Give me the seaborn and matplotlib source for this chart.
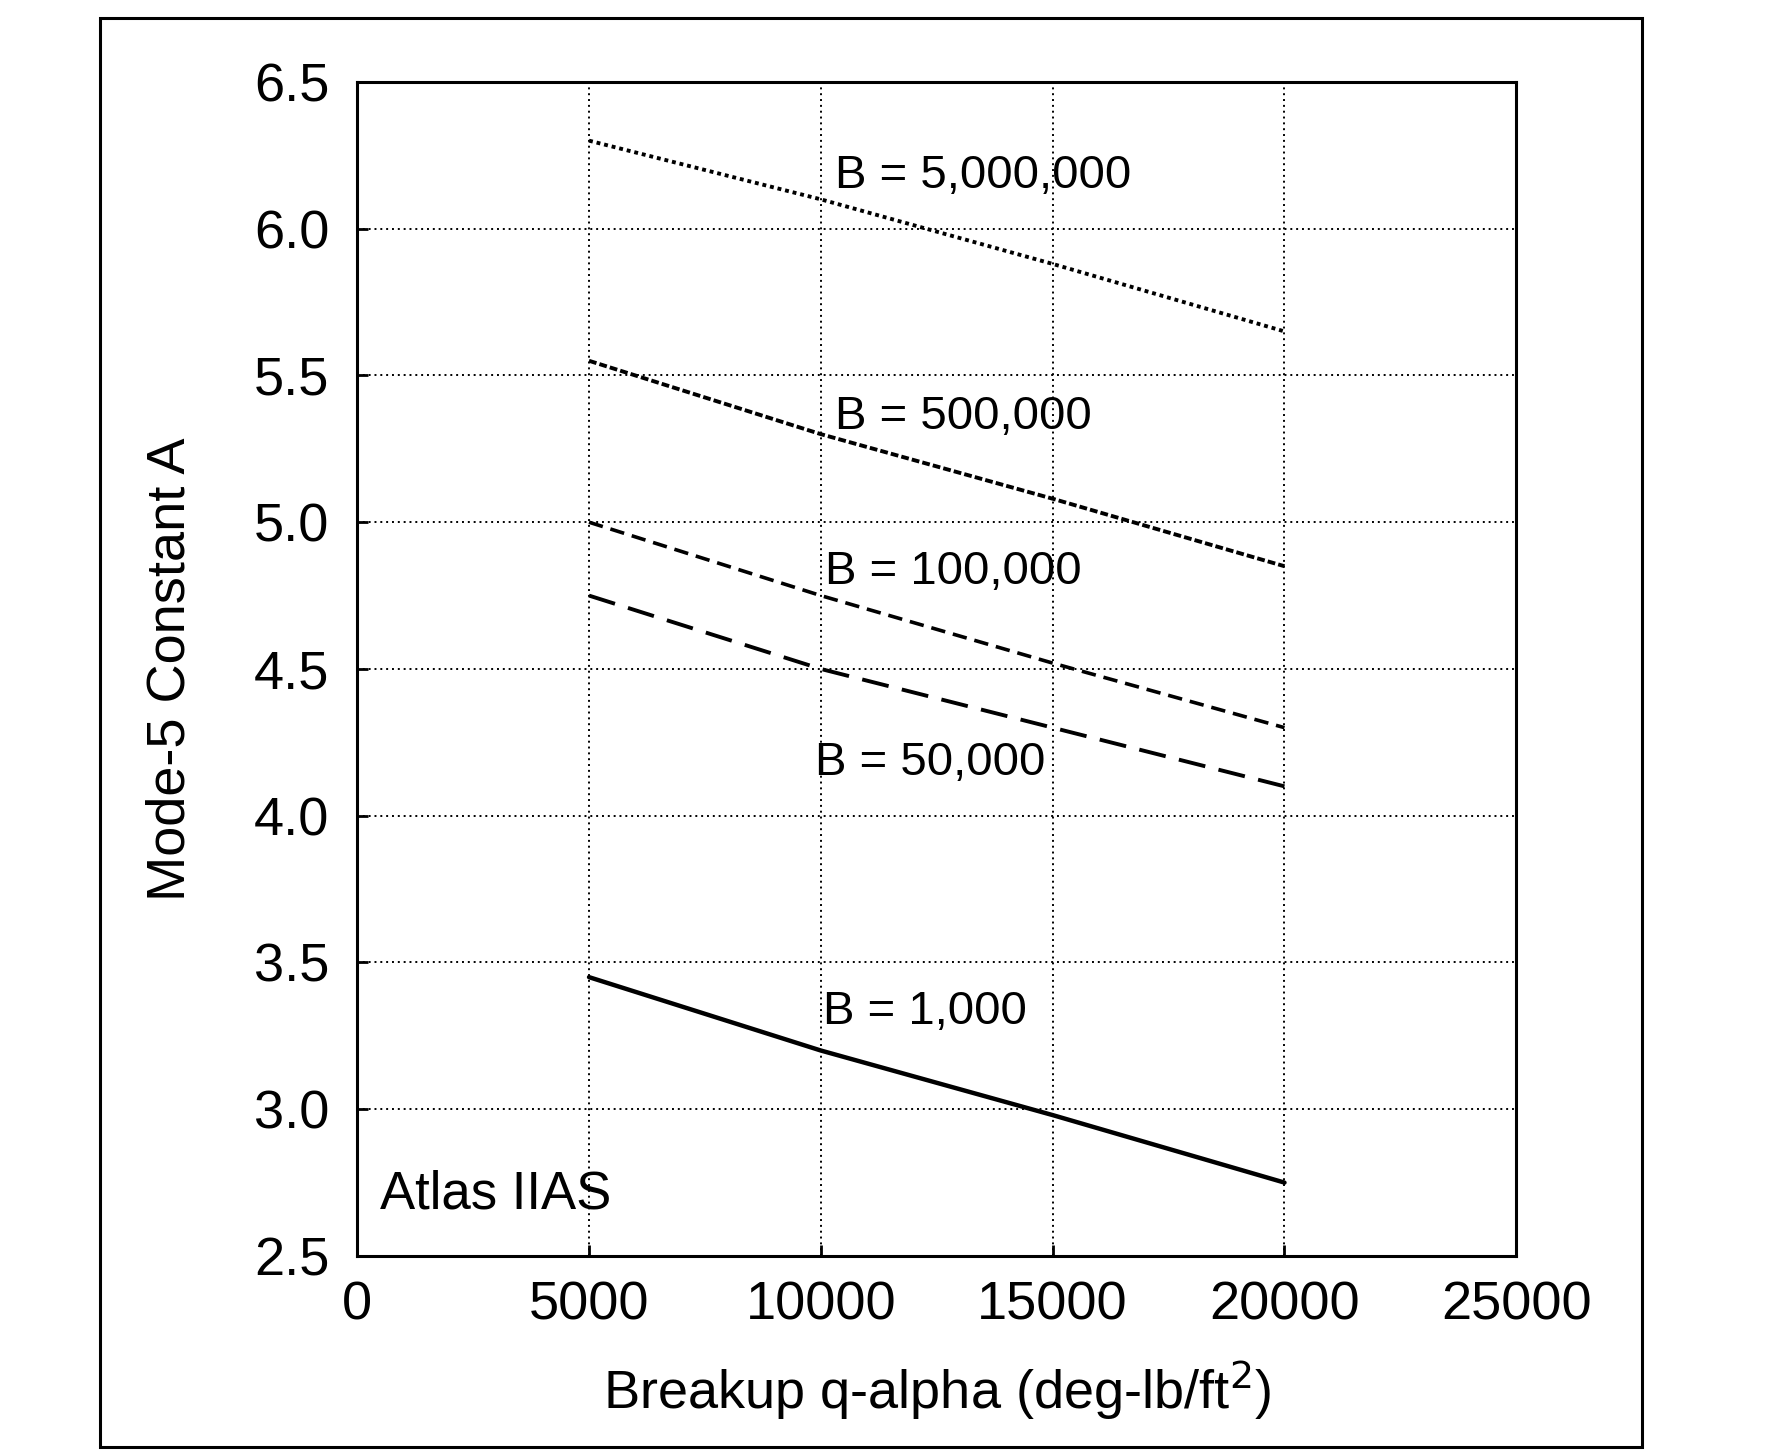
import matplotlib
matplotlib.use("Agg")
import matplotlib.pyplot as plt
import seaborn as sns
import pandas as pd
from matplotlib.patches import Rectangle

# values
q_alpha = [5000, 10000, 15000, 20000]
a_b5000000 = [6.30, 6.10, 5.88, 5.65]
a_b500000 = [5.55, 5.30, 5.08, 4.85]
a_b100000 = [5.00, 4.75, 4.52, 4.30]
a_b50000 = [4.75, 4.50, 4.30, 4.10]
a_b1000 = [3.45, 3.20, 2.98, 2.75]
labels = ["B = 5,000,000", "B = 500,000", "B = 100,000", "B = 50,000", "B = 1,000"]
label_x = [10300, 10300, 10100, 9870, 10050]
label_y = [6.18, 5.36, 4.83, 4.18, 3.33]
xticks = [0, 5000, 10000, 15000, 20000, 25000]
yticks = [2.5, 3.0, 3.5, 4.0, 4.5, 5.0, 5.5, 6.0, 6.5]

sns.set_theme(style="white")
plt.rcParams['font.family'] = ['Liberation Sans', 'DejaVu Sans']
plt.rcParams['text.color'] = 'black'
plt.rcParams['axes.labelcolor'] = 'black'

fig = plt.figure(figsize=(17.86, 14.53), dpi=100)
ax = fig.add_axes([0.200, 0.1356, 0.649, 0.808])

series = [a_b5000000, a_b500000, a_b100000, a_b50000, a_b1000]
styles = [(0, (1, 1)), (0, (2, 0.8)), (0, (4, 2.2)), (0, (7, 3.5)), '-']
widths = [2.8, 2.8, 2.6, 2.8, 3.2]
for vals, ls, lw in zip(series, styles, widths):
    df = pd.DataFrame({'q': q_alpha, 'A': vals})
    sns.lineplot(data=df, x='q', y='A', ax=ax, color='black',
                 linestyle=ls, linewidth=lw)

for t, x, y in zip(labels, label_x, label_y):
    ax.text(x, y, t, fontsize=34, ha='left', va='center', color='black')
ax.text(500, 2.71, "Atlas IIAS", fontsize=38, ha='left', va='center', color='black')

ax.set_xlim(0, 25000)
ax.set_ylim(2.5, 6.5)
ax.set_xticks(xticks)
ax.set_yticks(yticks)
ax.set_xticklabels([str(v) for v in xticks])
ax.set_yticklabels([f"{v:.1f}" for v in yticks])
ax.grid(True, color='black', linestyle=(0, (1, 2)), linewidth=1.4)
ax.tick_params(axis='both', which='both', direction='in', length=8, width=2,
               labelsize=39, colors='black', left=True, bottom=True)
ax.tick_params(axis='x', pad=18)
ax.tick_params(axis='y', pad=20)
for s in ax.spines.values():
    s.set_color('black')
    s.set_linewidth(2.2)

ax.set_xlabel("Breakup q-alpha (deg-lb/ft$^2$)", fontsize=39, labelpad=20)
ax.set_ylabel("Mode-5 Constant A", fontsize=39, labelpad=42)

fig.patches.append(Rectangle((100 / 1786, 1 - 1447 / 1453), 1542 / 1786, 1429 / 1453,
                             transform=fig.transFigure, fill=False,
                             edgecolor='black', linewidth=2.2))

fig.savefig("out.png", dpi=100)
